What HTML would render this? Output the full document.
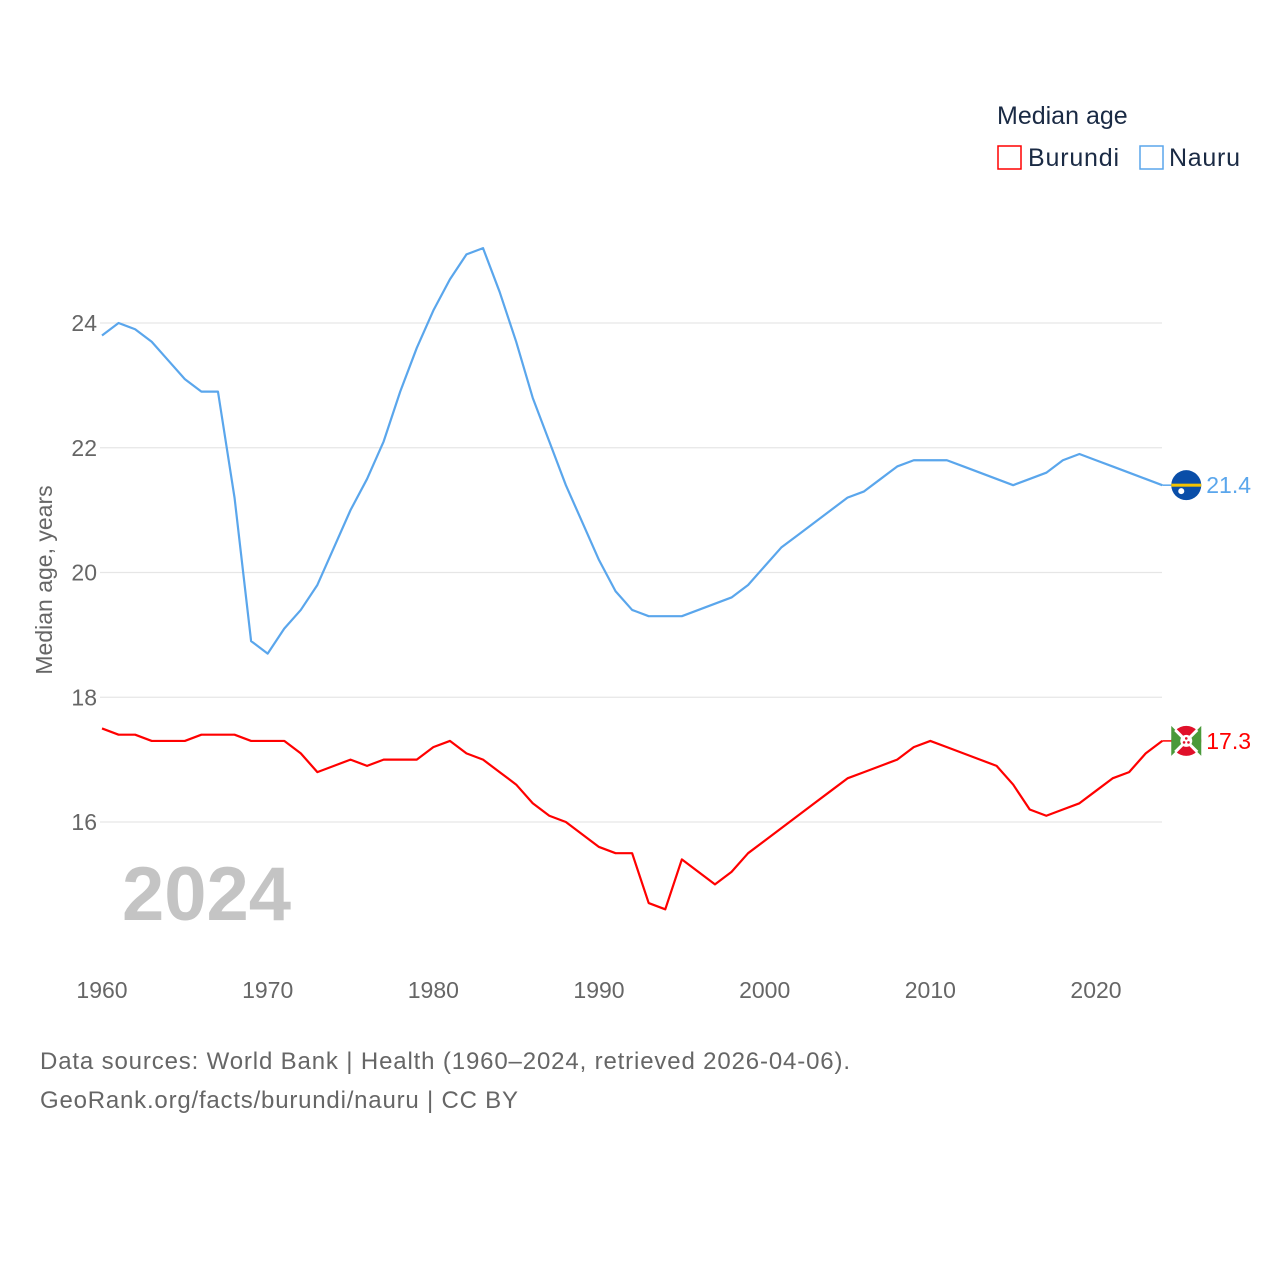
<!DOCTYPE html>
<html><head><meta charset="utf-8"><style>
body{margin:0;background:#fff;font-family:"Liberation Sans",sans-serif;}
svg text{font-family:"Liberation Sans",sans-serif;}
</style></head><body>
<svg width="1280" height="1280" viewBox="0 0 1280 1280">
<g id="grid"></g>
<g id="yt"></g>
<g id="xt"></g>
<text x="52" y="580" transform="rotate(-90 52 580)" text-anchor="middle" font-size="23" fill="#666">Median age, years</text>
<text x="122" y="920" font-size="76" font-weight="bold" fill="#c4c4c4">2024</text>
<g id="series"></g>
<text x="997" y="124" font-size="25" fill="#1a2a44">Median age</text>
<g><rect x="998" y="146" width="23" height="23" fill="none" stroke="#f00" stroke-width="1.5"/><text x="1028" y="166" font-size="25" fill="#1a2a44" textLength="91">Burundi</text></g>
<g><rect x="1140" y="146" width="23" height="23" fill="none" stroke="#5aa6ec" stroke-width="1.5"/><text x="1169" y="166" font-size="25" fill="#1a2a44" textLength="71">Nauru</text></g>
<text x="40" y="1069" font-size="24" fill="#666" textLength="810">Data sources: World Bank | Health (1960–2024, retrieved 2026-04-06).</text>
<text x="40" y="1108" font-size="24" fill="#666" textLength="478">GeoRank.org/facts/burundi/nauru | CC BY</text>
</svg>
<script>
const years=[];for(let y=1960;y<=2024;y++)years.push(y);
const nauru=[23.8,24.0,23.9,23.7,23.4,23.1,22.9,22.9,21.2,18.9,18.7,19.1,19.4,19.8,20.4,21.0,21.5,22.1,22.9,23.6,24.2,24.7,25.1,25.2,24.5,23.7,22.8,22.1,21.4,20.8,20.2,19.7,19.4,19.3,19.3,19.3,19.4,19.5,19.6,19.8,20.1,20.4,20.6,20.8,21.0,21.2,21.3,21.5,21.7,21.8,21.8,21.8,21.7,21.6,21.5,21.4,21.5,21.6,21.8,21.9,21.8,21.7,21.6,21.5,21.4];
const burundi=[17.5,17.4,17.4,17.3,17.3,17.3,17.4,17.4,17.4,17.3,17.3,17.3,17.1,16.8,16.9,17.0,16.9,17.0,17.0,17.0,17.2,17.3,17.1,17.0,16.8,16.6,16.3,16.1,16.0,15.8,15.6,15.5,15.5,14.7,14.6,15.4,15.2,15.0,15.2,15.5,15.7,15.9,16.1,16.3,16.5,16.7,16.8,16.9,17.0,17.2,17.3,17.2,17.1,17.0,16.9,16.6,16.2,16.1,16.2,16.3,16.5,16.7,16.8,17.1,17.3];
const yTicks=[16,18,20,22,24];
const xTicks=[1960,1970,1980,1990,2000,2010,2020];
const X=y=>102+(y-1960)*994/60;
const Y=v=>822-(v-16)*499/8;
const NS="http://www.w3.org/2000/svg";
function mk(t,p,a){const e=document.createElementNS(NS,t);for(const k in a)e.setAttribute(k,a[k]);p.appendChild(e);return e;}
const grid=document.getElementById('grid'),yt=document.getElementById('yt'),xt=document.getElementById('xt'),ser=document.getElementById('series');
yTicks.forEach(v=>{
 const l=mk('line',grid,{x1:100,x2:1162,y1:Y(v),y2:Y(v),stroke:'#e6e6e6','stroke-width':1.2});
 
 
 const t=mk('text',yt,{x:97,y:Y(v)+8,'text-anchor':'end','font-size':23,fill:'#666'});t.textContent=v;
 
 
});
xTicks.forEach(v=>{
 const t=mk('text',xt,{x:X(v),y:998,'text-anchor':'middle','font-size':23,fill:'#666'});t.textContent=v;
 
 
});
function line(data,color,name){
 const p=mk('polyline',ser,{points:data.map((v,i)=>X(years[i])+','+Y(v)).join(' '),fill:'none',stroke:color,'stroke-width':2.2,'stroke-linejoin':'round'});
 
 
 const last=data[data.length-1],lx=X(years[years.length-1]),ly=Y(last);
 mk('line',ser,{x1:lx,x2:lx+12,y1:ly,y2:ly,stroke:color,'stroke-width':1.5});
 const cx=lx+24;
 const g=mk('g',ser,{});
 
 
 if(name==='nauru'){
  mk('circle',g,{cx:cx,cy:ly,r:15,fill:'#0a4ea8'});
  mk('rect',g,{x:cx-15,y:ly-1.5,width:30,height:3,fill:'#f4c300'});
  mk('circle',g,{cx:cx-5,cy:ly+6,r:3,fill:'#fff'});
 } else {
  mk('circle',g,{cx:cx,cy:ly,r:15,fill:'#e0102a'});
  mk('path',g,{d:`M${cx-15} ${ly-15} L${cx} ${ly} L${cx-15} ${ly+15} Z M${cx+15} ${ly-15} L${cx} ${ly} L${cx+15} ${ly+15} Z`,fill:'#4a9a3a'});
  mk('circle',g,{cx:cx,cy:ly,r:15,fill:'none',stroke:'#fff','stroke-width':0.01});
  mk('line',g,{x1:cx-11,y1:ly-11,x2:cx+11,y2:ly+11,stroke:'#fff','stroke-width':3});
  mk('line',g,{x1:cx-11,y1:ly+11,x2:cx+11,y2:ly-11,stroke:'#fff','stroke-width':3});
  mk('circle',g,{cx:cx,cy:ly,r:6,fill:'#fff'});
  mk('circle',g,{cx:cx,cy:ly-2.5,r:1.3,fill:'#e0102a'});
  mk('circle',g,{cx:cx-2.2,cy:ly+1.5,r:1.3,fill:'#e0102a'});
  mk('circle',g,{cx:cx+2.2,cy:ly+1.5,r:1.3,fill:'#e0102a'});
 }
 const t=mk('text',ser,{x:lx+44,y:ly+8,'font-size':23,fill:color});t.textContent=last.toFixed(1);
 
 
}
line(nauru,'#5aa6ec','nauru');
line(burundi,'#f00','burundi');
</script>
</body></html>
